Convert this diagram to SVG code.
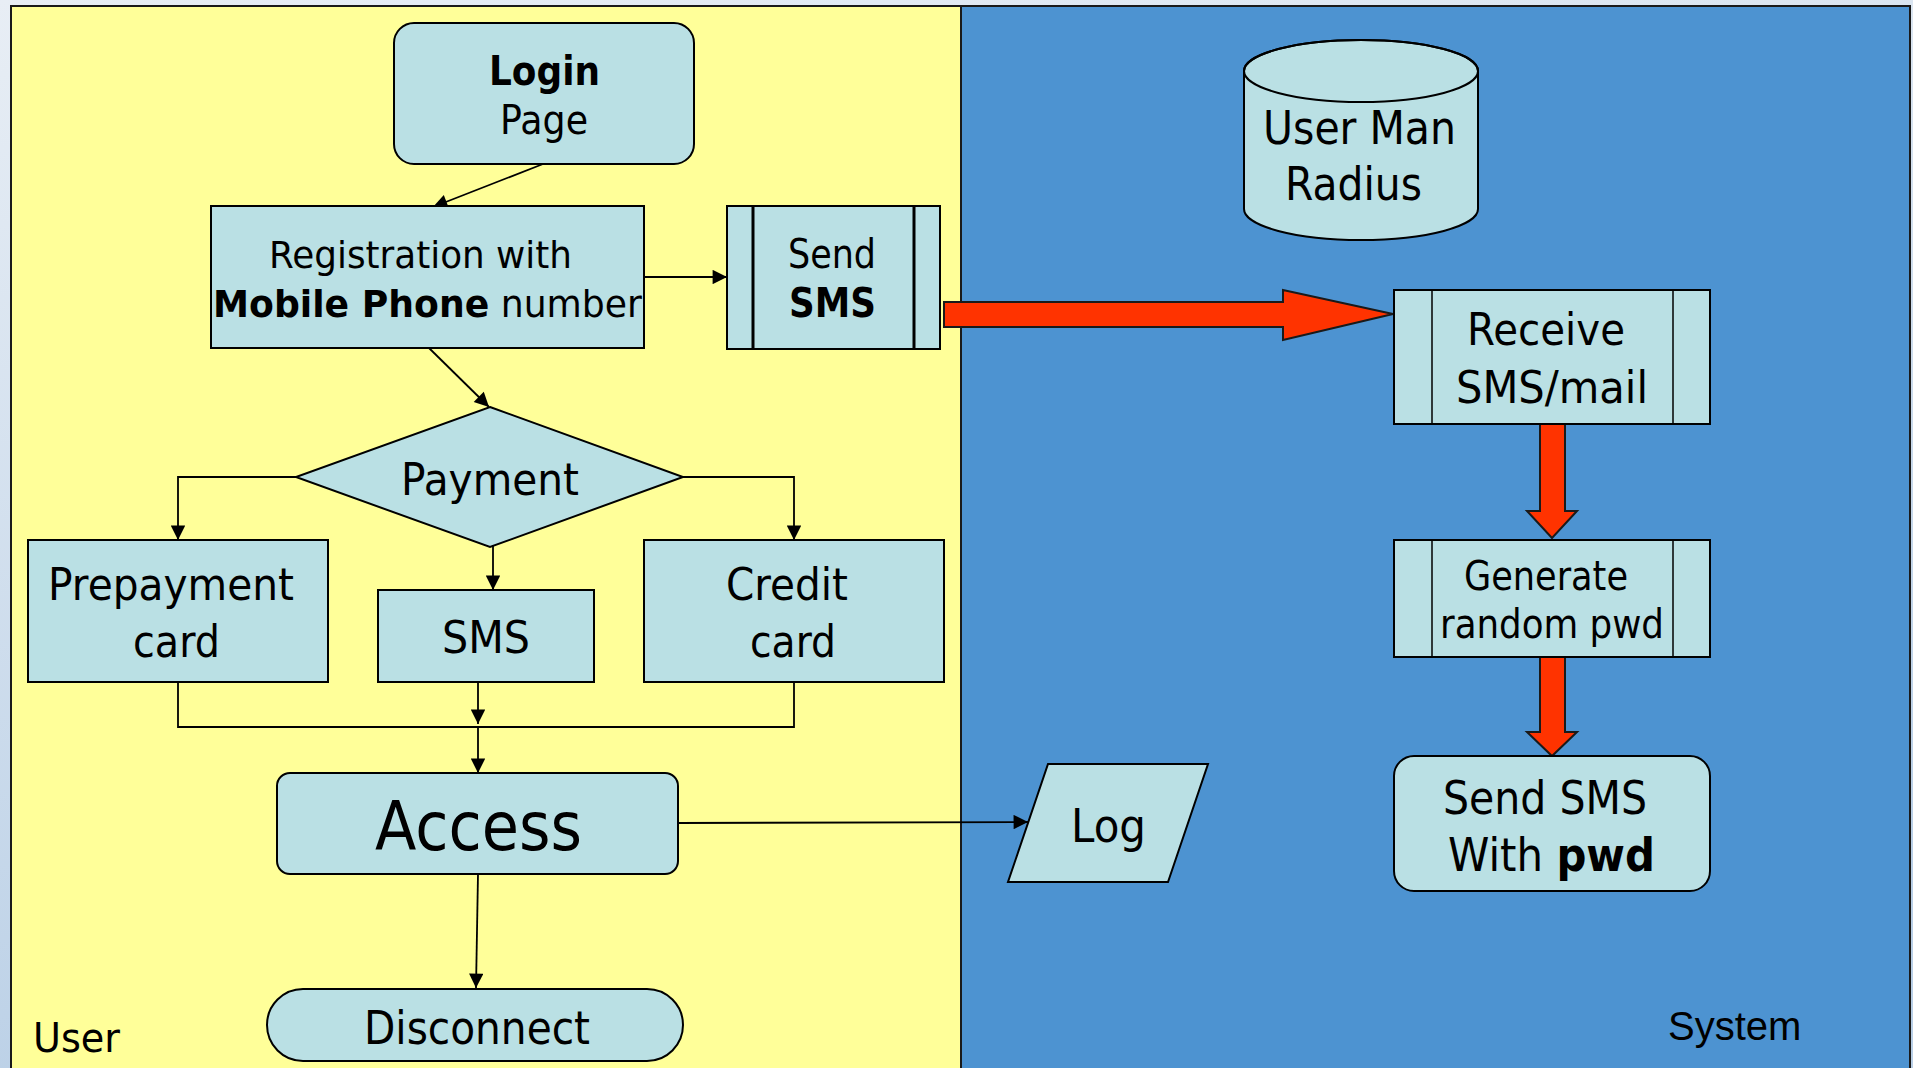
<svg xmlns="http://www.w3.org/2000/svg" width="1913" height="1068" viewBox="0 0 1913 1068">
<defs>
<linearGradient id="bg" x1="0" y1="0" x2="0.3" y2="1">
<stop offset="0" stop-color="#e8eef5"/>
<stop offset="1" stop-color="#b9cfe6"/>
</linearGradient>
<marker id="ahl" viewBox="0 0 10 10" refX="10" refY="5" markerWidth="10" markerHeight="8" markerUnits="strokeWidth" orient="auto">
<path d="M0,0 L10,5 L0,10 z" fill="#000"/>
</marker>
</defs>
<style>
.n{fill:#bae0e4;stroke:#000;stroke-width:2}
.t{font-family:"DejaVu Sans","Verdana",sans-serif;fill:#000}
.b{font-weight:bold}
.c{fill:none;stroke:#000;stroke-width:1.8}
.red{fill:#ff3300;stroke:#1a1a1a;stroke-width:2;stroke-linejoin:miter}
.div{stroke:#000;stroke-width:1.5}
</style>
<rect x="0" y="0" width="1913" height="1068" fill="url(#bg)"/>
<g id="lanes">
<rect x="11" y="6" width="950" height="1070" fill="#ffff99" stroke="#1a1a1a" stroke-width="2"/>
<rect x="961" y="6" width="949" height="1070" fill="#4d93d1" stroke="#1a1a1a" stroke-width="2"/>
<text class="t" x="33" y="1052" font-size="40" textLength="87" lengthAdjust="spacingAndGlyphs">User</text>
<text x="1668" y="1040" font-size="40" font-family="Liberation Sans, Arial, sans-serif">System</text>
</g>
<g id="connectors">
<line class="c" x1="543" y1="164" x2="433" y2="207" marker-end="url(#ahl)"/>
<line class="c" x1="644" y1="277" x2="727" y2="277" marker-end="url(#ahl)"/>
<line class="c" x1="429" y1="348" x2="489" y2="407" marker-end="url(#ahl)"/>
<polyline class="c" points="296,477 178,477 178,540" marker-end="url(#ahl)"/>
<polyline class="c" points="683,477 794,477 794,540" marker-end="url(#ahl)"/>
<line class="c" x1="493" y1="540" x2="493" y2="590" marker-end="url(#ahl)"/>
<polyline class="c" points="178,682 178,727 794,727 794,682"/>
<line class="c" x1="478" y1="682" x2="478" y2="724" marker-end="url(#ahl)"/>
<line class="c" x1="478" y1="727" x2="478" y2="773" marker-end="url(#ahl)"/>
<line class="c" x1="678" y1="823" x2="1028" y2="822" marker-end="url(#ahl)" stroke-width="2"/>
<line class="c" x1="478" y1="874" x2="476" y2="988" marker-end="url(#ahl)"/>
<polygon class="red" points="944,302 1283,302 1283,290 1393,314 1283,340 1283,327 944,327"/>
<polygon class="red" points="1540,423 1565,423 1565,511 1577,511 1552,538 1527,511 1540,511"/>
<polygon class="red" points="1540,657 1565,657 1565,732 1577,732 1552,756 1527,732 1540,732"/>
</g>
<g id="login">
<rect class="n" x="394" y="23" width="300" height="141" rx="20"/>
<text class="t b" x="489" y="85" font-size="40" textLength="111" lengthAdjust="spacingAndGlyphs">Login</text>
<text class="t" x="500" y="134" font-size="40" textLength="88" lengthAdjust="spacingAndGlyphs">Page</text>
</g>
<g id="registration">
<rect class="n" x="211" y="206" width="433" height="142"/>
<text class="t" x="269" y="268" font-size="38" textLength="303" lengthAdjust="spacingAndGlyphs">Registration with</text>
<text class="t" x="213" y="317" font-size="38" textLength="429" lengthAdjust="spacingAndGlyphs"><tspan class="b">Mobile Phone</tspan> number</text>
</g>
<g id="send-sms">
<rect class="n" x="727" y="206" width="213" height="143" stroke-width="4.5"/>
<line x1="753" y1="206" x2="753" y2="349" stroke="#000" stroke-width="3"/>
<line x1="914" y1="206" x2="914" y2="349" stroke="#000" stroke-width="3"/>
<text class="t" x="788" y="268" font-size="40" textLength="88" lengthAdjust="spacingAndGlyphs">Send</text>
<text class="t b" x="789" y="317" font-size="40" textLength="87" lengthAdjust="spacingAndGlyphs">SMS</text>
</g>
<g id="payment">
<polygon class="n" points="490,407 683,477 490,547 296,477"/>
<text class="t" x="401" y="495" font-size="44" textLength="178" lengthAdjust="spacingAndGlyphs">Payment</text>
</g>
<g id="prepayment">
<rect class="n" x="28" y="540" width="300" height="142"/>
<text class="t" x="48" y="600" font-size="44" textLength="246" lengthAdjust="spacingAndGlyphs">Prepayment</text>
<text class="t" x="133" y="657" font-size="44" textLength="87" lengthAdjust="spacingAndGlyphs">card</text>
</g>
<g id="sms">
<rect class="n" x="378" y="590" width="216" height="92"/>
<text class="t" x="442" y="653" font-size="44" textLength="88" lengthAdjust="spacingAndGlyphs">SMS</text>
</g>
<g id="credit">
<rect class="n" x="644" y="540" width="300" height="142"/>
<text class="t" x="726" y="600" font-size="44" textLength="122" lengthAdjust="spacingAndGlyphs">Credit</text>
<text class="t" x="750" y="657" font-size="44" textLength="86" lengthAdjust="spacingAndGlyphs">card</text>
</g>
<g id="access">
<rect class="n" x="277" y="773" width="401" height="101" rx="13"/>
<text class="t" x="375" y="850" font-size="68" textLength="207" lengthAdjust="spacingAndGlyphs">Access</text>
</g>
<g id="log">
<polygon class="n" points="1048,764 1208,764 1168,882 1008,882"/>
<text class="t" x="1071" y="842" font-size="46" textLength="75" lengthAdjust="spacingAndGlyphs">Log</text>
</g>
<g id="disconnect">
<rect class="n" x="267" y="989" width="416" height="72" rx="36"/>
<text class="t" x="364" y="1044" font-size="46" textLength="226" lengthAdjust="spacingAndGlyphs">Disconnect</text>
</g>
<g id="radius">
<path class="n" d="M1244,71 L1244,209 A117,31 0 0 0 1478,209 L1478,71 A117,31 0 0 0 1244,71 Z"/>
<ellipse cx="1361" cy="71" rx="117" ry="31" fill="none" stroke="#000" stroke-width="2"/>
<text class="t" x="1263" y="144" font-size="46" textLength="193" lengthAdjust="spacingAndGlyphs">User Man</text>
<text class="t" x="1285" y="200" font-size="46" textLength="137" lengthAdjust="spacingAndGlyphs">Radius</text>
</g>
<g id="receive">
<rect class="n" x="1394" y="290" width="316" height="134"/>
<line class="div" x1="1432" y1="290" x2="1432" y2="424"/>
<line class="div" x1="1673" y1="290" x2="1673" y2="424"/>
<text class="t" x="1467" y="345" font-size="44" textLength="158" lengthAdjust="spacingAndGlyphs">Receive</text>
<text class="t" x="1456" y="403" font-size="44" textLength="192" lengthAdjust="spacingAndGlyphs">SMS/mail</text>
</g>
<g id="generate">
<rect class="n" x="1394" y="540" width="316" height="117"/>
<line class="div" x1="1432" y1="540" x2="1432" y2="657"/>
<line class="div" x1="1673" y1="540" x2="1673" y2="657"/>
<text class="t" x="1464" y="590" font-size="40" textLength="164" lengthAdjust="spacingAndGlyphs">Generate</text>
<text class="t" x="1440" y="638" font-size="40" textLength="224" lengthAdjust="spacingAndGlyphs">random pwd</text>
</g>
<g id="send-pwd">
<rect class="n" x="1394" y="756" width="316" height="135" rx="20"/>
<text class="t" x="1443" y="814" font-size="46" textLength="204" lengthAdjust="spacingAndGlyphs">Send SMS</text>
<text class="t" x="1448" y="871" font-size="46" textLength="207" lengthAdjust="spacingAndGlyphs">With <tspan class="b">pwd</tspan></text>
</g>
</svg>
